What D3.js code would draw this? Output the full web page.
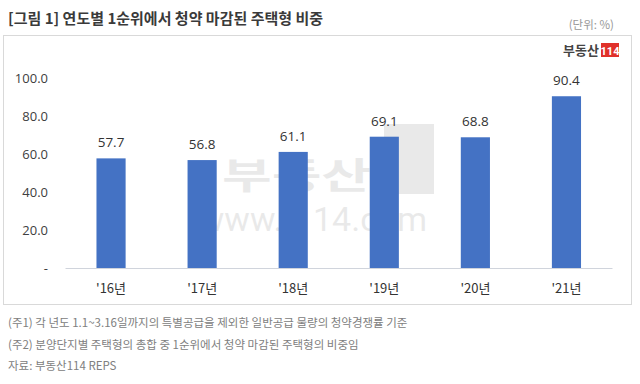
<!DOCTYPE html>
<html>
<head>
<meta charset="utf-8">
<script src="https://cdn.jsdelivr.net/npm/d3@7"></script>
<style>
  html, body { margin: 0; padding: 0; background: #fff; }
  svg { display: block; font-family: "Noto Sans CJK KR", "Noto Sans", sans-serif; }
</style>
</head>
<body>
<div id="chart"></div>
<script>
// data
const years = ["'16년", "'17년", "'18년", "'19년", "'20년", "'21년"];
const shares = [57.7, 56.8, 61.1, 69.1, 68.8, 90.4];
const yTicks = [0, 20, 40, 60, 80, 100];
const notes = [
  "(주1) 각 년도 1.1~3.16일까지의 특별공급을 제외한 일반공급 물량의 청약경쟁률 기준",
  "(주2) 분양단지별 주택형의 총합 중 1순위에서 청약 마감된 주택형의 비중임",
  "자료: 부동산114 REPS"
];

const width = 640, height = 384;
const svg = d3.select('#chart').append('svg')
  .attr('width', width)
  .attr('height', height);

// title + unit
svg.append('text')
  .attr('x', 8).attr('y', 24)
  .attr('font-size', 15).attr('font-weight', 'bold')
  .attr('fill', '#3a3a3a')
  .text('[그림 1] 연도별 1순위에서 청약 마감된 주택형 비중');

svg.append('text')
  .attr('x', 614).attr('y', 29)
  .attr('text-anchor', 'end')
  .attr('font-size', 11.5).attr('fill', '#999')
  .text('(단위: %)');

// chart frame
svg.append('rect')
  .attr('x', 3.5).attr('y', 35.5)
  .attr('width', 628).attr('height', 269)
  .attr('fill', 'none')
  .attr('stroke', '#d9d9d9');

// scales
const x = d3.scaleBand()
  .domain(years)
  .range([65.5, 612])
  .paddingInner(0.68)
  .paddingOuter(0.34);

const y = d3.scaleLinear()
  .domain([0, 100])
  .range([268, 78]);

// watermark (faint), kept clear of the value labels
const wm = svg.append('g').attr('opacity', 0.12).attr('fill', '#555');
wm.append('text')
  .attr('transform', 'translate(222,189) scale(1.5,1)')
  .attr('font-size', 36).attr('font-weight', 'bold')
  .text('부동산');
wm.append('rect')
  .attr('x', 384).attr('y', 124).attr('width', 50).attr('height', 70);
wm.append('text')
  .attr('x', 313).attr('y', 231)
  .attr('text-anchor', 'middle')
  .attr('font-size', 34)
  .attr('font-family', 'Roboto, sans-serif')
  .text('www.r114.com');

// y axis labels (no axis line)
const yAxis = d3.axisLeft(y)
  .tickValues(yTicks)
  .tickSize(0)
  .tickPadding(0)
  .tickFormat(d => d === 0 ? '-' : d3.format('.1f')(d));

svg.append('g')
  .attr('transform', 'translate(48,0)')
  .call(yAxis)
  .call(g => g.select('.domain').remove())
  .call(g => g.selectAll('text')
    .attr('font-size', 13)
    .attr('fill', '#404040')
    .attr('font-family', '"Open Sans", "Noto Sans", sans-serif'));

// bars
svg.append('g')
  .selectAll('rect')
  .data(shares)
  .join('rect')
  .attr('x', (d, i) => x(years[i]))
  .attr('y', d => y(d))
  .attr('width', x.bandwidth())
  .attr('height', d => y(0) - y(d))
  .attr('fill', '#4472c4');

// value labels
svg.append('g')
  .selectAll('text')
  .data(shares)
  .join('text')
  .attr('x', (d, i) => x(years[i]) + x.bandwidth() / 2)
  .attr('y', d => y(d) - 11)
  .attr('text-anchor', 'middle')
  .attr('font-size', 13.5)
  .attr('fill', '#333')
  .attr('font-family', '"Open Sans", "Noto Sans", sans-serif')
  .text(d => d.toFixed(1));

// x axis baseline + labels
const xAxis = d3.axisBottom(x).tickSize(0).tickPadding(16);
svg.append('g')
  .attr('transform', `translate(0,${y(0)})`)
  .call(xAxis)
  .call(g => g.select('.domain')
    .attr('stroke', '#d0d4dc')
    .attr('d', 'M65.5,0.5H612.5'))
  .call(g => g.selectAll('text')
    .attr('font-size', 13)
    .attr('fill', '#333')
    .attr('font-family', '"Noto Sans CJK KR", sans-serif'));

// logo top-right
const logo = svg.append('g');
logo.append('text')
  .attr('x', 599).attr('y', 55)
  .attr('text-anchor', 'end')
  .attr('font-size', 13).attr('font-weight', 'bold')
  .attr('fill', '#444')
  .text('부동산');
logo.append('rect')
  .attr('x', 601).attr('y', 43).attr('width', 18).attr('height', 14)
  .attr('fill', '#e0312a');
logo.append('text')
  .attr('x', 610).attr('y', 54.5)
  .attr('text-anchor', 'middle')
  .attr('font-size', 11).attr('font-weight', 'bold')
  .attr('fill', '#fff')
  .attr('font-family', '"Liberation Sans Narrow", "Roboto", sans-serif')
  .text('114');

// footnotes
svg.append('g')
  .selectAll('text')
  .data(notes)
  .join('text')
  .attr('x', 8)
  .attr('y', (d, i) => 327 + i * 21.5)
  .attr('font-size', 11.5)
  .attr('fill', '#808080')
  .text(d => d);
</script>
</body>
</html>
